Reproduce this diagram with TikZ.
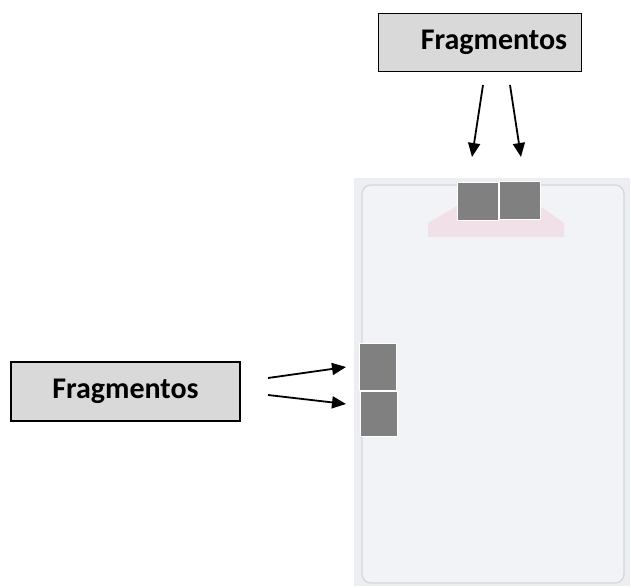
\documentclass[tikz,border=0pt]{standalone}
\usepackage{fontspec}
\setmainfont{Carlito}
\usetikzlibrary{arrows.meta}
\definecolor{boxgray}{HTML}{D9D9D9}
\definecolor{panel}{HTML}{ECEEF1}
\definecolor{panelin}{HTML}{F2F3F6}
\definecolor{panelline}{HTML}{D3D6DC}
\definecolor{tab}{HTML}{F2E0E9}
\definecolor{frag}{HTML}{808080}
\tikzset{
  label box/.style={draw=black, line width=1.8pt, fill=boxgray, minimum width=203pt,
    minimum height=58pt, inner sep=0pt, font=\fontsize{30}{33}\selectfont\bfseries},
  piece/.style={draw=white, line width=0.8pt, fill=frag, inner sep=0pt, anchor=north west},
  pointer/.style={line width=1.8pt, -{Triangle[length=14pt,width=12pt]}}
}
\begin{document}
\begin{tikzpicture}[x=1pt,y=-1pt]
  \useasboundingbox (0,0) rectangle (631,588);
  % card seen from the front
  \fill[panel] (354,178) rectangle (630,586);
  \draw[panelline, line width=1.2pt, fill=panelin, rounded corners=9pt] (362,185) rectangle (624,583);
  % pink holder strip behind the top pieces
  \fill[tab] (428,223) -- (457,206) -- (540,206) -- (564,223) -- (564,237) -- (428,237) -- cycle;
  % fragments placed on the card
  \node[piece, minimum width=41pt, minimum height=38pt] (t1) at (457,182) {};
  \node[piece, minimum width=41pt, minimum height=38pt] (t2) at (499,181) {};
  \node[piece, minimum width=37pt, minimum height=47pt] (l1) at (359,343) {};
  \node[piece, minimum width=37pt, minimum height=45pt] (l2) at (359.5,391) {};
  % labels
  \node[label box] (top) at (480,42.5) {\hspace*{28pt}Fragmentos};
  \node[label box, minimum width=229pt, minimum height=59pt] (left) at (125.5,391.5) {Fragmentos};
  % arrow anchors
  \coordinate (ta) at (483,85);
  \coordinate (tb) at (510,85);
  \coordinate (la) at (268,378);
  \coordinate (lb) at (268,395);
  \coordinate (ta') at (472,157);
  \coordinate (tb') at (521,157);
  \coordinate (la') at (346,367);
  \coordinate (lb') at (346,404);
  \draw[pointer] (ta) -- (ta');
  \draw[pointer] (tb) -- (tb');
  \draw[pointer] (la) -- (la');
  \draw[pointer] (lb) -- (lb');
\end{tikzpicture}
\end{document}
